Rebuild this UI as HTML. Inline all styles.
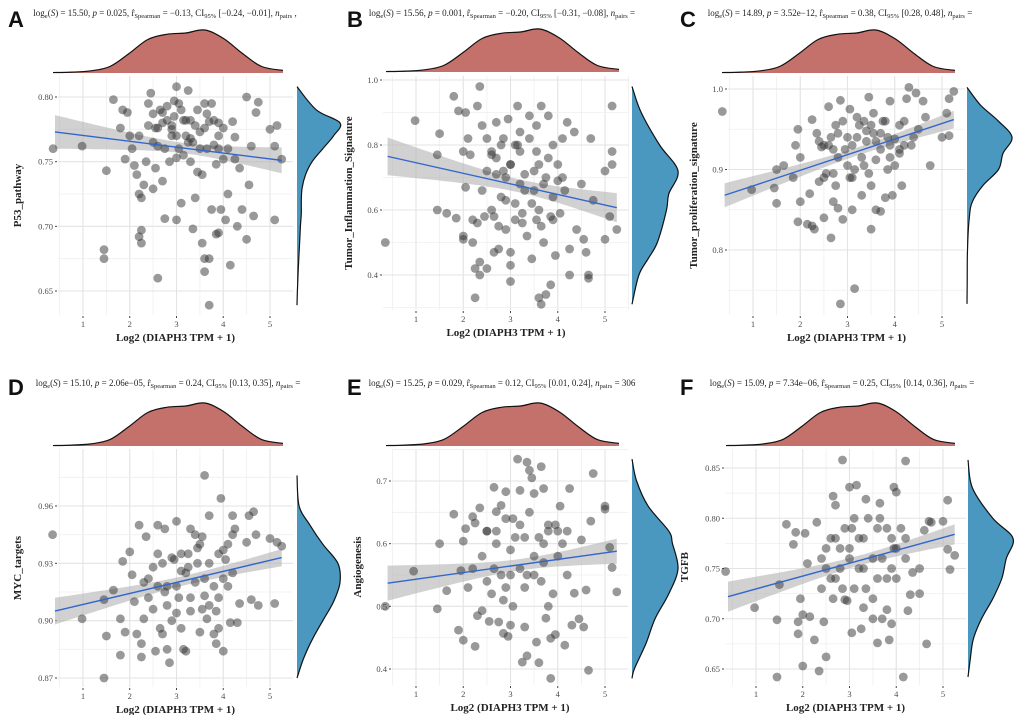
<!DOCTYPE html>
<html><head><meta charset="utf-8"><style>
html,body{margin:0;padding:0;background:#fff;}
svg{display:block;}
text{font-family:"Liberation Serif",serif;}
</style></head><body>
<svg id="fig" width="1020" height="715" viewBox="0 0 1020 715"></svg>
<script>
// ---- data ----
const xTicks = [1,2,3,4,5];
const topDensX = [0.4,0.8,1.2,1.6,2.0,2.4,2.8,3.2,3.6,4.0,4.4,4.8,5.25];
const topDensV = [0.01,0.02,0.05,0.15,0.45,0.78,0.9,0.93,1.0,0.8,0.45,0.15,0.06];

const aX=[0.36,0.98,1.5,1.45,1.45,1.65,1.8,1.85,1.9,1.95,2.0,2.05,2.1,2.15,2.2,2.25,2.2,2.25,2.25,2.3,2.35,2.4,2.45,2.5,2.5,2.55,2.6,2.65,2.7,2.75,2.7,2.8,2.85,2.9,2.95,3.0,3.0,3.05,3.1,3.15,3.2,3.25,3.3,3.35,3.4,3.45,3.5,3.55,3.55,3.6,3.6,3.65,3.7,3.7,3.75,3.8,3.85,3.9,3.9,3.95,4.0,4.05,4.1,4.15,4.2,4.25,4.3,4.35,4.4,4.5,4.5,4.55,4.6,4.65,4.7,4.75,5.0,5.1,5.15,5.1,5.25,2.6,3.0,3.3,3.75,2.9,3.35,2.55,4.25,3.9,2.95,3.6,3.15];
const aY=[0.760,0.762,0.743,0.682,0.675,0.798,0.776,0.790,0.752,0.788,0.770,0.760,0.747,0.740,0.725,0.722,0.692,0.697,0.687,0.732,0.750,0.795,0.803,0.787,0.729,0.776,0.762,0.790,0.735,0.706,0.780,0.793,0.750,0.770,0.785,0.705,0.808,0.760,0.718,0.782,0.770,0.805,0.750,0.698,0.722,0.790,0.773,0.740,0.687,0.675,0.665,0.760,0.675,0.639,0.713,0.782,0.694,0.760,0.695,0.713,0.776,0.705,0.725,0.670,0.781,0.769,0.700,0.745,0.713,0.800,0.690,0.732,0.762,0.708,0.788,0.796,0.775,0.705,0.778,0.762,0.752,0.660,0.753,0.782,0.795,0.775,0.765,0.745,0.752,0.770,0.797,0.776,0.755];
const aX2=[2.6,2.7,2.8,2.9,3.0,3.1,3.2,3.3,3.4,3.5,3.6,3.7,3.8,3.9,4.0,2.4,2.5,3.05,3.45,3.65,3.25,2.75,3.85,4.1,2.2];
const aY2=[0.776,0.788,0.782,0.778,0.770,0.790,0.782,0.768,0.778,0.760,0.795,0.781,0.763,0.780,0.752,0.778,0.765,0.795,0.742,0.787,0.765,0.760,0.748,0.760,0.770];
const bX=[0.35,0.98,1.45,1.5,1.45,1.65,1.8,1.85,1.9,2.0,2.0,2.0,2.05,2.05,2.1,2.15,2.2,2.2,2.25,2.25,2.3,2.3,2.35,2.35,2.35,2.4,2.45,2.5,2.5,2.6,2.6,2.65,2.7,2.75,2.75,2.8,2.85,2.9,2.95,3.0,3.0,3.0,3.0,3.1,3.15,3.2,3.25,3.3,3.35,3.4,3.45,3.5,3.55,3.55,3.6,3.65,3.65,3.7,3.75,3.8,3.85,3.9,3.9,3.95,4.0,4.05,4.1,4.2,4.25,4.25,4.35,4.4,4.5,4.55,4.6,4.65,4.65,4.7,4.75,5.0,5.0,5.1,5.15,5.15,5.15,5.25,3.2,2.7,3.45,3.75,2.9,3.6,4.15,3.1];
const bY=[0.50,0.875,0.600,0.835,0.77,0.59,0.95,0.575,0.905,0.78,0.52,0.51,0.90,0.67,0.82,0.77,0.57,0.50,0.42,0.33,0.92,0.56,0.98,0.44,0.40,0.86,0.58,0.42,0.72,0.77,0.60,0.47,0.87,0.55,0.48,0.64,0.82,0.54,0.88,0.74,0.47,0.43,0.38,0.80,0.92,0.84,0.59,0.71,0.52,0.89,0.45,0.66,0.78,0.57,0.33,0.92,0.31,0.50,0.34,0.89,0.37,0.80,0.57,0.46,0.69,0.59,0.82,0.87,0.48,0.40,0.84,0.54,0.68,0.51,0.47,0.39,0.40,0.82,0.63,0.72,0.51,0.58,0.92,0.78,0.74,0.54,0.68,0.71,0.62,0.70,0.63,0.74,0.66,0.57];
const bX2=[2.5,2.6,2.7,2.8,2.9,3.0,3.1,3.2,3.3,3.4,3.5,3.6,3.7,3.8,3.9,4.0,2.4,2.65,3.25,3.55,3.85,4.1,2.85,3.15,3.65];
const bY2=[0.82,0.78,0.76,0.80,0.70,0.74,0.62,0.78,0.66,0.82,0.72,0.60,0.68,0.76,0.64,0.74,0.66,0.58,0.56,0.86,0.58,0.70,0.72,0.80,0.55];
const cX=[0.35,0.97,1.45,1.5,1.5,1.65,1.85,1.9,1.95,1.95,2.0,2.0,2.15,2.2,2.25,2.25,2.3,2.35,2.4,2.45,2.5,2.55,2.6,2.65,2.65,2.7,2.75,2.8,2.85,2.85,2.9,2.95,3.05,3.1,3.15,3.15,3.2,3.3,3.35,3.45,3.5,3.5,3.55,3.6,3.7,3.75,3.8,3.85,3.9,3.95,4.0,4.1,4.15,4.2,4.25,4.3,4.35,4.45,4.5,4.6,4.65,4.75,5.0,5.1,5.15,5.15,5.25,3.0,3.4,2.8,3.6,3.25,2.5,3.9,4.4,3.1,2.7,3.7,4.1];
const cY=[0.972,0.875,0.877,0.858,0.900,0.905,0.890,0.930,0.950,0.835,0.860,0.915,0.832,0.870,0.830,0.962,0.826,0.945,0.885,0.928,0.840,0.895,0.978,0.940,0.815,0.860,0.955,0.852,0.986,0.733,0.838,0.925,0.975,0.850,0.752,0.900,0.940,0.868,0.960,0.990,0.880,0.826,0.970,0.850,0.848,0.960,0.865,0.940,0.985,0.868,0.905,0.920,0.880,0.960,0.988,1.002,0.930,0.995,0.950,0.985,0.965,0.905,0.940,0.970,0.988,0.942,0.997,0.905,0.935,0.915,0.912,0.955,0.930,0.930,0.940,0.890,0.895,0.945,0.955];
const cX2=[2.4,2.6,2.7,2.8,2.9,3.0,3.1,3.2,3.3,3.4,3.5,3.6,3.7,3.8,3.9,4.0,4.1,2.5,3.05,3.45,3.55,3.85,2.75,3.35,4.2];
const cY2=[0.935,0.930,0.925,0.945,0.960,0.940,0.930,0.965,0.915,0.948,0.955,0.935,0.925,0.960,0.915,0.938,0.925,0.890,0.890,0.895,0.945,0.900,0.880,0.905,0.930];
const dX=[0.35,0.98,1.45,1.5,1.45,1.65,1.8,1.8,1.85,1.9,2.0,2.05,2.1,2.15,2.2,2.25,2.25,2.3,2.35,2.4,2.5,2.55,2.6,2.65,2.7,2.75,2.8,2.85,2.9,3.0,3.0,3.1,3.15,3.2,3.25,3.3,3.4,3.5,3.55,3.6,3.65,3.7,3.8,3.85,3.9,3.95,4.0,4.05,4.1,4.15,4.2,4.25,4.3,4.35,4.5,4.55,4.6,4.65,4.7,4.75,5.0,5.1,5.15,5.25,2.8,3.1,3.3,3.6,3.9,2.6,3.45,4.0,2.95,3.7,4.2,2.3];
const dY=[0.945,0.901,0.870,0.892,0.911,0.916,0.882,0.901,0.931,0.894,0.936,0.924,0.910,0.893,0.950,0.881,0.888,0.901,0.944,0.922,0.906,0.884,0.950,0.896,0.893,0.948,0.885,0.878,0.900,0.952,0.904,0.896,0.885,0.884,0.935,0.948,0.945,0.894,0.944,0.976,0.901,0.955,0.893,0.888,0.896,0.964,0.884,0.932,0.918,0.899,0.955,0.948,0.899,0.909,0.941,0.955,0.911,0.957,0.945,0.908,0.943,0.909,0.941,0.939,0.918,0.926,0.912,0.922,0.912,0.918,0.930,0.937,0.932,0.908,0.925,0.920];
const dX2=[2.4,2.5,2.6,2.7,2.8,2.9,3.0,3.1,3.2,3.3,3.4,3.5,3.6,3.7,3.8,3.9,4.0,4.1,4.2,2.75,3.25,3.55,3.85,3.05,3.45];
const dY2=[0.912,0.928,0.935,0.930,0.908,0.933,0.918,0.935,0.925,0.905,0.920,0.940,0.913,0.930,0.918,0.935,0.922,0.940,0.945,0.915,0.928,0.906,0.905,0.912,0.938];
const eX=[0.35,0.95,1.45,1.5,1.65,1.8,1.9,1.95,2.0,2.0,2.05,2.1,2.2,2.25,2.25,2.3,2.35,2.4,2.5,2.55,2.65,2.7,2.75,2.8,2.85,2.9,2.95,3.0,3.05,3.15,3.2,3.25,3.3,3.35,3.35,3.4,3.45,3.5,3.55,3.6,3.65,3.7,3.75,3.8,3.85,3.85,3.95,4.05,4.15,4.25,4.3,4.35,4.45,4.5,4.55,4.6,4.65,4.7,4.75,5.0,5.0,5.1,5.15,5.25,3.0,3.2,2.7,3.5,3.8,2.5,4.0,3.3,2.9,3.7,4.2,2.2];
const eY=[0.500,0.556,0.496,0.600,0.525,0.647,0.462,0.557,0.446,0.604,0.624,0.530,0.643,0.436,0.633,0.485,0.657,0.493,0.620,0.476,0.690,0.651,0.475,0.661,0.457,0.683,0.452,0.470,0.500,0.735,0.685,0.411,0.467,0.421,0.730,0.717,0.705,0.680,0.443,0.410,0.723,0.688,0.481,0.500,0.449,0.385,0.455,0.660,0.438,0.688,0.470,0.521,0.480,0.606,0.467,0.526,0.398,0.636,0.712,0.660,0.655,0.594,0.562,0.523,0.590,0.560,0.600,0.550,0.620,0.540,0.580,0.610,0.530,0.570,0.550,0.560];
const eX2=[2.4,2.5,2.6,2.7,2.8,2.9,3.0,3.1,3.2,3.3,3.4,3.5,3.6,3.7,3.8,3.9,4.0,4.1,4.2,2.65,3.05,3.35,3.65,3.95,2.85];
const eY2=[0.58,0.62,0.52,0.62,0.55,0.64,0.55,0.61,0.63,0.53,0.65,0.58,0.61,0.60,0.63,0.52,0.62,0.60,0.62,0.56,0.64,0.55,0.54,0.63,0.51];
const fX=[0.35,0.97,1.45,1.45,1.5,1.65,1.8,1.85,1.9,1.9,1.95,2.0,2.0,2.05,2.1,2.15,2.25,2.3,2.35,2.45,2.5,2.6,2.65,2.7,2.85,2.9,2.95,3.0,3.05,3.15,3.25,3.3,3.35,3.5,3.6,3.65,3.7,3.8,3.85,3.9,3.95,4.0,4.15,4.2,4.25,4.3,4.35,4.5,4.5,4.6,4.65,4.7,4.75,5.0,5.1,5.1,5.15,5.25,3.0,3.2,2.7,3.5,3.8,2.5,4.0,3.3,2.8,3.6,4.2,2.4,3.1,3.9];
const fY=[0.747,0.711,0.699,0.642,0.734,0.794,0.774,0.786,0.697,0.685,0.720,0.653,0.704,0.785,0.755,0.702,0.679,0.796,0.648,0.697,0.662,0.780,0.822,0.813,0.858,0.719,0.718,0.831,0.686,0.833,0.690,0.711,0.819,0.700,0.676,0.815,0.700,0.709,0.679,0.695,0.831,0.826,0.642,0.857,0.708,0.724,0.746,0.725,0.750,0.788,0.675,0.797,0.796,0.797,0.818,0.769,0.749,0.763,0.760,0.780,0.740,0.760,0.790,0.750,0.770,0.750,0.770,0.740,0.780,0.730,0.730,0.750];
const fX2=[2.4,2.5,2.6,2.7,2.8,2.9,3.0,3.1,3.2,3.3,3.4,3.5,3.6,3.7,3.8,3.9,4.0,4.1,4.2,2.65,3.05,3.35,3.65,3.95,2.85];
const fY2=[0.76,0.77,0.74,0.78,0.75,0.79,0.77,0.80,0.75,0.78,0.80,0.72,0.79,0.76,0.74,0.78,0.74,0.79,0.76,0.72,0.79,0.73,0.80,0.77,0.73];

const aDensY=[0.808,0.79,0.78,0.77,0.76,0.75,0.74,0.73,0.72,0.71,0.70,0.68,0.66,0.639];
const aDensV=[0.0,0.45,1.0,0.85,0.6,0.35,0.2,0.12,0.1,0.1,0.08,0.05,0.02,0.0];
const bDensY=[0.98,0.9,0.8,0.72,0.65,0.6,0.5,0.45,0.4,0.31];
const bDensV=[0.0,0.2,0.6,1.0,0.8,0.75,0.55,0.35,0.15,0.0];
const cDensY=[1.002,0.98,0.96,0.94,0.92,0.90,0.88,0.86,0.84,0.80,0.76,0.733];
const cDensV=[0.0,0.3,0.7,1.0,0.8,0.7,0.35,0.12,0.05,0.01,0.005,0.0];
const dDensY=[0.976,0.96,0.95,0.94,0.93,0.92,0.91,0.90,0.89,0.88,0.87];
const dDensV=[0.0,0.05,0.3,0.6,0.95,1.0,0.85,0.6,0.35,0.15,0.0];
const eDensY=[0.735,0.70,0.66,0.62,0.60,0.56,0.52,0.48,0.44,0.40,0.385];
const eDensV=[0.0,0.1,0.35,0.8,0.88,1.0,0.8,0.5,0.3,0.05,0.0];
const fDensY=[0.858,0.83,0.80,0.78,0.76,0.74,0.72,0.70,0.68,0.66,0.642];
const fDensV=[0.0,0.1,0.55,1.0,0.85,0.75,0.55,0.3,0.12,0.05,0.0];

const aFit=[0.773,0.751], bFit=[0.765,0.607], cFit=[0.868,0.962], dFit=[0.905,0.933], eFit=[0.537,0.588], fFit=[0.722,0.784];
const aCI=[0.013,0.004,0.010], bCI=[0.058,0.02,0.045], cCI=[0.015,0.005,0.011], dCI=[0.007,0.0025,0.0045], eCI=[0.028,0.009,0.02], fCI=[0.015,0.005,0.01];

const aTicks=[0.65,0.70,0.75,0.80], bTicks=[0.4,0.6,0.8,1.0], cTicks=[0.8,0.9,1.0], dTicks=[0.87,0.90,0.93,0.96], eTicks=[0.4,0.5,0.6,0.7], fTicks=[0.65,0.70,0.75,0.80,0.85];
const aTickLbl=["0.65","0.70","0.75","0.80"], bTickLbl=["0.4","0.6","0.8","1.0"], cTickLbl=["0.8","0.9","1.0"], dTickLbl=["0.87","0.90","0.93","0.96"], eTickLbl=["0.4","0.5","0.6","0.7"], fTickLbl=["0.65","0.70","0.75","0.80","0.85"];

// ---- layout ----
const NS="http://www.w3.org/2000/svg";
const svg=document.getElementById('fig');
function mk(tag,attrs,parent){const e=document.createElementNS(NS,tag);for(const k in attrs)e.setAttribute(k,attrs[k]);(parent||svg).appendChild(e);return e;}
function smooth(pts){let d="M"+pts[0][0]+","+pts[0][1];for(let i=0;i<pts.length-1;i++){const p0=pts[Math.max(0,i-1)],p1=pts[i],p2=pts[i+1],p3=pts[Math.min(pts.length-1,i+2)];const c1=[p1[0]+(p2[0]-p0[0])/6,p1[1]+(p2[1]-p0[1])/6],c2=[p2[0]-(p3[0]-p1[0])/6,p2[1]-(p3[1]-p1[1])/6];d+=" C"+c1[0].toFixed(1)+","+c1[1].toFixed(1)+" "+c2[0].toFixed(1)+","+c2[1].toFixed(1)+" "+p2[0].toFixed(1)+","+p2[1].toFixed(1);}return d;}

const panels=[
 {id:'a',letter:'A',lx:8,ly:27,px0:58,px1:293,py0:76,py1:315,x1:83,x5:270,ya:0.65,yap:291,yb:0.80,ybp:97,tdx0:53,tdx1:283,tdBase:73,rdx:297,rdw:43,
  xs:aX.concat(aX2),ys:aY.concat(aY2),dy:aDensY,dv:aDensV,fit:aFit,ci:aCI,ticks:aTicks,tl:aTickLbl,ytitle:'P53_pathway',
  stat:['15.50','0.025','\u22120.13','[\u22120.24, \u22120.01]',' ,'],sx:165,sy:16},
 {id:'b',letter:'B',lx:347,ly:27,px0:383,px1:629,py0:76,py1:310,x1:416,x5:605,ya:0.4,yap:275,yb:1.0,ybp:80,tdx0:386,tdx1:619,tdBase:72,rdx:632,rdw:46,
  xs:bX.concat(bX2),ys:bY.concat(bY2),dy:bDensY,dv:bDensV,fit:bFit,ci:bCI,ticks:bTicks,tl:bTickLbl,ytitle:'Tumor_Inflammation_Signature',
  stat:['15.56','0.001','\u22120.20','[\u22120.31, \u22120.08]',' ='],sx:502,sy:16},
 {id:'c',letter:'C',lx:680,ly:27,px0:728,px1:965,py0:76,py1:315,x1:753,x5:942,ya:0.8,yap:250,yb:1.0,ybp:89,tdx0:722,tdx1:955,tdBase:73,rdx:967,rdw:45,
  xs:cX.concat(cX2),ys:cY.concat(cY2),dy:cDensY,dv:cDensV,fit:cFit,ci:cCI,ticks:cTicks,tl:cTickLbl,ytitle:'Tumor_proliferation_signature',
  stat:['14.89','3.52e\u221212','0.38','[0.28, 0.48]',' ='],sx:840,sy:16},
 {id:'d',letter:'D',lx:8,ly:395,px0:58,px1:293,py0:449,py1:687,x1:83,x5:270,ya:0.87,yap:678,yb:0.96,ybp:506,tdx0:53,tdx1:283,tdBase:446,rdx:297,rdw:43,
  xs:dX.concat(dX2),ys:dY.concat(dY2),dy:dDensY,dv:dDensV,fit:dFit,ci:dCI,ticks:dTicks,tl:dTickLbl,ytitle:'MYC_targets',
  stat:['15.10','2.06e\u221205','0.24','[0.13, 0.35]',' ='],sx:168,sy:386},
 {id:'e',letter:'E',lx:347,ly:395,px0:392,px1:628,py0:449,py1:685,x1:416,x5:605,ya:0.4,yap:669,yb:0.7,ybp:481,tdx0:386,tdx1:619,tdBase:446,rdx:632,rdw:46,
  xs:eX.concat(eX2),ys:eY.concat(eY2),dy:eDensY,dv:eDensV,fit:eFit,ci:eCI,ticks:eTicks,tl:eTickLbl,ytitle:'Angiogenesis',
  stat:['15.25','0.029','0.12','[0.01, 0.24]',' = 306'],sx:502,sy:386},
 {id:'f',letter:'F',lx:680,ly:395,px0:725,px1:966,py0:449,py1:685,x1:756,x5:943,ya:0.65,yap:669,yb:0.85,ybp:468,tdx0:726,tdx1:955,tdBase:446,rdx:968,rdw:45,
  xs:fX.concat(fX2),ys:fY.concat(fY2),dy:fDensY,dv:fDensV,fit:fFit,ci:fCI,ticks:fTicks,tl:fTickLbl,ytitle:'TGFB',
  stat:['15.09','7.34e\u221206','0.25','[0.14, 0.36]',' ='],sx:842,sy:386}
];

panels.forEach(P=>{
  const g=mk('g',{});
  
  
  const sxp=(P.x5-P.x1)/4;
  const X=v=>P.x1+(v-1)*sxp;
  const Y=v=>P.ybp+(v-P.yb)*(P.yap-P.ybp)/(P.ya-P.yb);
  const yUnit=(P.ticks[1]-P.ticks[0]);
  const L=mk('text',{x:P.lx,y:P.ly,'font-size':22,'font-weight':'bold',fill:'#111'},g);
  L.style.fontFamily='"Liberation Sans",sans-serif';
  L.textContent=P.letter;
  
  
  const st=mk('text',{x:P.sx,y:P.sy,'font-size':9,'text-anchor':'middle',fill:'#222'},g);
  
  
  st.innerHTML='log<tspan font-size="6.5" dy="2">e</tspan><tspan dy="-2">(</tspan><tspan font-style="italic">S</tspan>) = '+P.stat[0]+', <tspan font-style="italic">p</tspan> = '+P.stat[1]+', r\u0302<tspan font-size="6.5" dy="2">Spearman</tspan><tspan dy="-2"> = '+P.stat[2]+', CI</tspan><tspan font-size="6.5" dy="2">95%</tspan><tspan dy="-2"> '+P.stat[3]+', </tspan><tspan font-style="italic">n</tspan><tspan font-size="6.5" dy="2">pairs</tspan><tspan dy="-2">'+P.stat[4]+'</tspan>';
  const grid=mk('g',{},g);
  
  
  for(let v=0.5;v<=5.5;v+=0.5){const px=X(v);if(px<P.px0||px>P.px1)continue;const major=Math.abs(v-Math.round(v))<1e-6;mk('line',{x1:px,x2:px,y1:P.py0,y2:P.py1,stroke:major?'#e3e3e3':'#efefef','stroke-width':major?1.1:0.8},grid);}
  for(let v=P.ticks[0]-yUnit*2;v<=P.ticks[P.ticks.length-1]+yUnit*2;v+=yUnit/2){const py=Y(v);if(py<P.py0||py>P.py1)continue;const major=P.ticks.some(t=>Math.abs(t-v)<1e-6);mk('line',{x1:P.px0,x2:P.px1,y1:py,y2:py,stroke:major?'#e3e3e3':'#efefef','stroke-width':major?1.1:0.8},grid);}
  P.ticks.forEach((t,i)=>{const py=Y(t);mk('line',{x1:P.px0-3,x2:P.px0-1,y1:py,y2:py,stroke:'#444','stroke-width':1},g);
    const tx=mk('text',{x:P.px0-5,y:py+3,'font-size':8.5,'text-anchor':'end',fill:'#4d4d4d'},g);tx.textContent=P.tl[i];
    
    });
  xTicks.forEach(t=>{const px=X(t);mk('line',{x1:px,x2:px,y1:P.py1+1,y2:P.py1+3,stroke:'#444','stroke-width':1},g);
    const tx=mk('text',{x:px,y:P.py1+12,'font-size':8.5,'text-anchor':'middle',fill:'#4d4d4d'},g);tx.textContent=t;
    
    });
  const xt=mk('text',{x:(P.px0+P.px1)/2,y:P.py1+26,'font-size':11,'font-weight':'bold','text-anchor':'middle',fill:'#222'},g);
  xt.textContent='Log2 (DIAPH3 TPM + 1)';
  
  
  const yc=(P.py0+P.py1)/2, yx=P.px0-(P.tl[0].length>3?37:31);
  const yt=mk('text',{x:yx,y:yc,'font-size':11,'font-weight':'bold','text-anchor':'middle',fill:'#222',transform:'rotate(-90 '+yx+' '+yc+')'},g);
  yt.textContent=P.ytitle;
  
  
  const xa=0.4,xb=5.25,xm=3.2;
  const fitY=v=>P.fit[0]+(P.fit[1]-P.fit[0])*(v-xa)/(xb-xa);
  const hw=v=>{const side=v<xm?P.ci[0]:P.ci[2];const k=(side*side-P.ci[1]*P.ci[1])/Math.pow(v<xm?xm-xa:xb-xm,2);return Math.sqrt(P.ci[1]*P.ci[1]+k*(v-xm)*(v-xm));};
  let up=[],lo=[];for(let i=0;i<=40;i++){const v=xa+(xb-xa)*i/40;up.push(X(v).toFixed(1)+','+Y(fitY(v)+hw(v)).toFixed(1));lo.unshift(X(v).toFixed(1)+','+Y(fitY(v)-hw(v)).toFixed(1));}
  const band=mk('polygon',{points:up.concat(lo).join(' '),fill:'#b3b3b3','fill-opacity':0.6},g);
  
  
  const pts=mk('g',{},g);
  
  
  P.xs.forEach((v,i)=>{const c=mk('circle',{cx:X(v).toFixed(1),cy:Y(P.ys[i]).toFixed(1),r:4.4,fill:'#333','fill-opacity':0.5},pts);
    
    });
  const fl=mk('line',{x1:X(xa),y1:Y(fitY(xa)),x2:X(xb),y2:Y(fitY(xb)),stroke:'#3366cc','stroke-width':1.4},g);
  
  
  const tp=topDensX.map((v,i)=>[P.tdx0+(v-0.4)/(5.25-0.4)*(P.tdx1-P.tdx0),P.tdBase-topDensV[i]*43]);
  const td=smooth(tp)+' L'+P.tdx1+','+P.tdBase+' L'+P.tdx0+','+P.tdBase+' Z';
  const tdp=mk('path',{d:td,fill:'#c4706b',stroke:'none'},g);
  
  
  mk('path',{d:smooth(tp),fill:'none',stroke:'#111','stroke-width':1.2},g);
  const rp=P.dy.map((v,i)=>[P.rdx+P.dv[i]*P.rdw,Y(v)]);
  const rd=smooth(rp)+' L'+P.rdx+','+rp[rp.length-1][1]+' L'+P.rdx+','+rp[0][1]+' Z';
  const rdp=mk('path',{d:rd,fill:'#4a97bf',stroke:'none'},g);
  
  
  mk('path',{d:smooth(rp),fill:'none',stroke:'#111','stroke-width':1.2},g);
});
</script>
</body></html>
